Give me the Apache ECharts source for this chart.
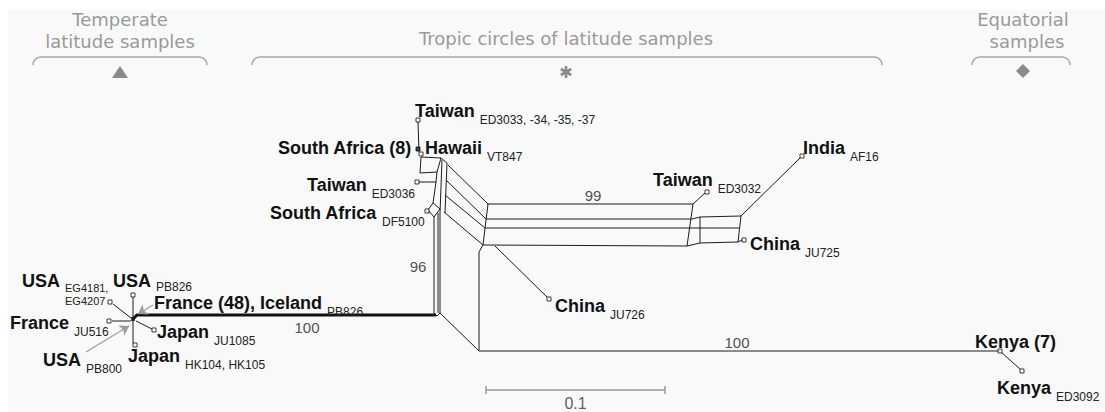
<!DOCTYPE html>
<html>
<head>
<meta charset="utf-8">
<script src="https://cdn.jsdelivr.net/npm/echarts@6/dist/echarts.min.js"></script>
<style>
  html, body { margin: 0; padding: 0; background: #fff; }
  #chart { width: 1105px; height: 412px; }
</style>
</head>
<body>
<div id="chart"></div>
<script>
// ---- Split network data (plot units) ----
const taxonNames = [
  'Taiwan', 'South Africa (8)', 'Hawaii', 'Taiwan', 'South Africa',
  'Taiwan', 'India', 'China', 'China', 'Kenya (7)', 'Kenya',
  'USA', 'USA', 'France (48), Iceland', 'France', 'Japan', 'USA', 'Japan'
];
const taxonCodes = [
  'ED3033, -34, -35, -37', '', 'VT847', 'ED3036', 'DF5100',
  'ED3032', 'AF16', 'JU725', 'JU726', '', 'ED3092',
  'EG4181,\nEG4207', 'PB826', 'PB826', 'JU516', 'JU1085', 'PB800', 'HK104, HK105'
];
// tip positions of the taxa in the network
const tipNodes = [
  [418, 120], [418, 149], [421, 154], [417, 182], [427, 211],
  [707, 192], [802, 156], [744, 240], [549, 299], [1000, 351], [1022, 371],
  [110, 302], [133, 295], null, [109, 321], [154, 330], null, [135, 345]
];
// filled (collapsed) tips
const filledTips = [[418, 149], [133, 319]];

// network edges (split network drawn as parallel edges)
const splitEdges = [
  // temperate star
  [[113, 304], [131, 318]],
  [[133, 297], [133, 343]],
  [[112, 321], [131, 321]],
  [[136, 321], [152, 329]],
  // tropical cluster box
  [[418, 122], [419, 152]],
  [[421, 157], [441, 158]],
  [[421, 157], [420, 173]],
  [[420, 173], [437, 172]],
  [[441, 158], [437, 172]],
  [[419, 182], [436, 182]],
  [[437, 172], [436, 182]],
  [[436, 182], [433, 203]],
  [[428, 210], [433, 203], [440, 209], [434, 217], [428, 210]],
  [[441, 158], [447, 163]],
  [[442, 160], [440, 213]],
  [[447, 163], [445, 213]],
  // trunk
  [[434, 217], [434, 313]],
  [[438, 213], [438, 313]],
  [[440, 213], [440, 313]],
  [[434, 313], [437, 316], [440, 313]],
  // diagonals to the long split
  [[448, 165], [488, 204]],
  [[446, 180], [486, 219]],
  [[445, 195], [485, 228]],
  [[444, 212], [483, 245]],
  // long split (99)
  [[488, 204], [693, 204]],
  [[486, 219], [692, 219]],
  [[485, 228], [690, 228]],
  [[483, 245], [687, 246]],
  [[488, 204], [483, 245]],
  [[693, 204], [687, 246]],
  // China JU726
  [[495, 246], [547, 297]],
  // Kenya branch
  [[483, 245], [479, 252], [479, 351]],
  [[440, 313], [479, 351]],
  [[479, 351], [1000, 351]],
  [[1001, 352], [1020, 369]],
  // Taiwan ED3032
  [[693, 204], [705, 193]],
  // India / China JU725 box
  [[692, 219], [700, 217]],
  [[690, 228], [700, 228]],
  [[700, 217], [741, 216]],
  [[700, 228], [739, 228]],
  [[687, 246], [700, 243], [738, 242]],
  [[700, 217], [700, 243]],
  [[741, 216], [738, 242]],
  [[741, 216], [800, 158]],
  [[738, 242], [742, 240]]
];
// long branch shared by France (48), Iceland
const heavyEdges = [
  [[133, 319], [137, 315], [436, 315]]
];
// pointers to collapsed tips
const pointerEdges = [
  [[153, 305], [138, 314]],
  [[86, 352], [129, 326]]
];

// bootstrap support
const supportValues = ['100', '96', '99', '100'];
const supportAt = [[307, 327], [418, 266], [593, 195], [737, 342]];

// scale bar: 0.1 substitutions per site
const scaleBarValue = 0.1;
const unitsPerSubstitution = 1790;
const scaleBarStart = [486, 390];

// group headers
const groupTitles = [
  ['Temperate', 'latitude samples'],
  ['Tropic circles of latitude samples'],
  ['Equatorial', 'samples']
];

// ---- layout ----
const labelAnchors = [
  [415, 111], [278, 148], [425, 148], [307, 185], [270, 213],
  [653, 180], [803, 148], [750, 244], [555, 306], [975, 342], [997, 388],
  [22, 281], [113, 281], [154, 303], [10, 323], [157, 332], [43, 360], [128, 356]
];
const codeOffsetY = [8, 8, 8, 8, 8, 8, 8, 8, 8, 8, 8, 6, 5, 8, 8, 8, 8, 8];
const codeLineHeight = [12, 12, 12, 12, 12, 12, 12, 12, 12, 12, 12, 13, 12, 12, 12, 12, 12, 12];
const codeFontSize = [12, 12, 12, 12, 12, 12, 12, 12, 12, 12, 12, 11, 12, 12, 12, 12, 12, 12];
const NAME_FONT = { size: 18, weight: 'bold', family: '"Liberation Sans", Arial, sans-serif' };
const CODE_FAMILY = '"Liberation Sans", Arial, sans-serif';

const measureCtx = document.createElement('canvas').getContext('2d');
function textWidth(t, f) {
  measureCtx.font = f.weight + ' ' + f.size + 'px ' + f.family;
  return measureCtx.measureText(t).width;
}

const chart = echarts.init(document.getElementById('chart'), null, { renderer: 'svg' });

// header graphics
const headerColor = '#9a9a9a';
const headerFont = '18px "DejaVu Sans", Verdana, sans-serif';
function brace(x0, x1, y) {
  const r = 8, pts = [];
  for (let k = 0; k <= 8; k++) {
    const a = Math.PI - (Math.PI / 2) * (k / 8);
    pts.push([x0 + r + r * Math.cos(a), y + r - r * Math.sin(a)]);
  }
  for (let k = 0; k <= 8; k++) {
    const a = Math.PI / 2 - (Math.PI / 2) * (k / 8);
    pts.push([x1 - r + r * Math.cos(a), y + r - r * Math.sin(a)]);
  }
  return { type: 'polyline', shape: { points: pts }, style: { stroke: '#a8a8a8', lineWidth: 1.5, fill: null } };
}
function headerText(t, x, y) {
  return { type: 'text', x: x, y: y, style: { text: t, fill: headerColor, font: headerFont, align: 'center', verticalAlign: 'middle' } };
}
const asterisk = [];
for (let k = 0; k < 3; k++) {
  const a = Math.PI / 2 + k * Math.PI / 3;
  asterisk.push({ type: 'line', shape: { x1: 566 - 6 * Math.cos(a), y1: 72 - 6 * Math.sin(a), x2: 566 + 6 * Math.cos(a), y2: 72 + 6 * Math.sin(a) }, style: { stroke: '#8a8a8a', lineWidth: 2.6 } });
}

const graphic = [
  { type: 'rect', z: -10, shape: { x: 8, y: 10, width: 1097, height: 402 }, style: { fill: '#f9f9f9' } },
  headerText(groupTitles[0][0], 120, 19), headerText(groupTitles[0][1], 120, 41),
  headerText(groupTitles[1][0], 566, 38),
  headerText(groupTitles[2][0], 1023, 19), headerText(groupTitles[2][1], 1027, 41),
  brace(33, 207, 57), brace(252, 882, 57), brace(972, 1070, 57),
  { type: 'polygon', shape: { points: [[120, 66], [112, 78], [128, 78]] }, style: { fill: '#8a8a8a' } },
  { type: 'polygon', shape: { points: [[1023, 64], [1030, 71], [1023, 78], [1016, 71]] }, style: { fill: '#8a8a8a' } }
].concat(asterisk);

const tipData = tipNodes.filter(p => p !== null);
const scaleEnd = [scaleBarStart[0] + scaleBarValue * unitsPerSubstitution, scaleBarStart[1]];

chart.setOption({
  backgroundColor: '#ffffff',
  animation: false,
  graphic: graphic,
  grid: { left: 0, right: 0, top: 0, bottom: 0 },
  xAxis: { type: 'value', min: 0, max: 1105, show: false },
  yAxis: { type: 'value', min: 0, max: 412, inverse: true, show: false },
  series: [
    {
      name: 'splits', type: 'lines', coordinateSystem: 'cartesian2d', polyline: true, silent: true,
      lineStyle: { color: '#1c1c1c', width: 1, opacity: 1 },
      data: splitEdges.map(c => ({ coords: c }))
    },
    {
      name: 'long branch', type: 'lines', coordinateSystem: 'cartesian2d', polyline: true, silent: true,
      lineStyle: { color: '#111', width: 3, opacity: 1 },
      data: heavyEdges.map(c => ({ coords: c }))
    },
    {
      name: 'pointers', type: 'lines', coordinateSystem: 'cartesian2d', silent: true,
      symbol: ['none', 'arrow'], symbolSize: 9,
      lineStyle: { color: '#9c9c9c', width: 1.2, opacity: 1 },
      data: pointerEdges.map(c => ({ coords: c }))
    },
    {
      name: 'scale', type: 'lines', coordinateSystem: 'cartesian2d', polyline: true, silent: true,
      lineStyle: { color: '#999', width: 1.5, opacity: 1 },
      data: [
        { coords: [scaleBarStart, scaleEnd] },
        { coords: [[scaleBarStart[0], scaleBarStart[1] - 4], [scaleBarStart[0], scaleBarStart[1] + 4]] },
        { coords: [[scaleEnd[0], scaleEnd[1] - 4], [scaleEnd[0], scaleEnd[1] + 4]] }
      ]
    },
    {
      name: 'scale label', type: 'scatter', symbolSize: 0, silent: true,
      data: [[(scaleBarStart[0] + scaleEnd[0]) / 2, scaleBarStart[1] + 13]],
      label: { show: true, position: 'inside', formatter: String(scaleBarValue), fontSize: 16, color: '#333', fontFamily: '"Liberation Sans", Arial, sans-serif' }
    },
    {
      name: 'tips', type: 'scatter', symbol: 'rect', symbolSize: 4, silent: true,
      itemStyle: { color: '#fff', borderColor: '#111', borderWidth: 1 },
      data: tipData, z: 5
    },
    {
      name: 'collapsed', type: 'scatter', symbol: 'rect', symbolSize: 4, silent: true,
      itemStyle: { color: '#111' }, data: filledTips, z: 5
    },
    {
      name: 'support', type: 'scatter', symbolSize: 0, silent: true,
      data: supportAt.map((p, i) => [p[0], p[1], supportValues[i]]),
      label: {
        show: true, position: 'inside', formatter: p => p.value[2],
        fontSize: 15, color: '#222', fontFamily: '"Liberation Sans", Arial, sans-serif'
      }
    },
    {
      name: 'taxa', type: 'custom', silent: true, clip: false,
      data: labelAnchors.map((a, i) => [a[0], a[1], i]),
      renderItem: function (params, api) {
        const i = api.value(2);
        const p = api.coord([api.value(0), api.value(1)]);
        const name = taxonNames[i];
        const w = textWidth(name, NAME_FONT);
        const children = [{
          type: 'text',
          style: {
            text: name, x: p[0], y: p[1], fill: '#111',
            fontSize: NAME_FONT.size, fontWeight: NAME_FONT.weight, fontFamily: NAME_FONT.family,
            align: 'left', verticalAlign: 'middle'
          }
        }];
        const code = taxonCodes[i];
        if (code) {
          children.push({
            type: 'text',
            style: {
              text: code, x: p[0] + w + 5, y: p[1] + codeOffsetY[i] - 5.5, fill: '#222',
              fontSize: codeFontSize[i], fontWeight: 'normal', fontFamily: CODE_FAMILY,
              lineHeight: codeLineHeight[i], align: 'left', verticalAlign: 'top'
            }
          });
        }
        return { type: 'group', children: children };
      }
    }
  ]
});
</script>
</body>
</html>
